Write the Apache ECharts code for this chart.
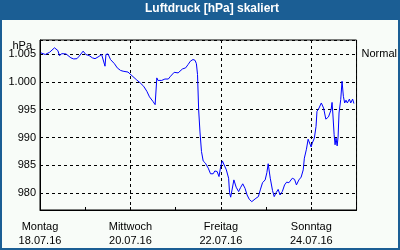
<!DOCTYPE html>
<html>
<head>
<meta charset="utf-8">
<script src="https://cdn.jsdelivr.net/npm/echarts@6/dist/echarts.min.js"></script>
<style>
  html, body { margin: 0; padding: 0; background: #f8fcf8; }
  #chart { width: 400px; height: 250px; }
</style>
</head>
<body>
<div id="chart"></div>
<script>
// Stunden seit Montag 18.07.16 00:00
const hours = [
  0.4, 2.8, 5.1, 7.7, 9.5, 10.3, 11.6, 13.8, 16.4, 17.9, 19.6, 20.8, 22.9, 24.3, 26.1, 27.8,
  29.2, 30.8, 32.7, 33.6, 34.5, 35.0, 36.1, 37.4, 39.5, 41.0, 42.7, 44.1, 46.7, 48.8, 51.1,
  53.2, 55.0, 56.7, 58.1, 59.9, 61.1, 62.0, 62.6, 63.4, 64.6, 66.3, 68.1, 69.3, 71.2, 73.3,
  75.6, 77.3, 78.6, 79.8, 81.2, 82.3, 83.0, 83.6, 84.2, 84.9, 85.7, 86.6, 87.8, 89.3, 90.5,
  91.9, 92.8, 94.0, 95.0, 95.9, 96.8, 97.7, 98.9, 100.1, 100.6, 101.2, 102.0, 102.9, 104.1,
  105.4, 106.4, 107.6, 108.8, 109.9, 111.1, 112.4, 113.4, 114.6, 115.9, 116.9, 118.1, 119.5,
  120.4, 121.1, 122.2, 123.4, 124.3, 125.3, 126.4, 127.4, 128.6, 129.8, 130.9, 132.1, 133.9,
  135.1, 136.1, 137.4, 138.6, 139.7, 140.3, 141.4, 142.3, 143.0, 143.9, 144.5, 145.6, 146.5,
  147.0, 148.1, 149.3, 150.5, 151.7, 153.1, 154.0, 154.5, 155.0, 155.4, 156.1, 156.6, 157.1,
  157.7, 158.2, 158.7, 159.6, 160.3, 161.0, 161.7, 162.4, 163.1, 164.2, 164.9, 165.9, 166.6
];
const druck = [
  1005.2, 1004.9, 1005.3, 1006.1, 1005.6, 1004.7, 1005.05, 1005.0, 1004.3, 1004.1, 1004.15, 1004.6, 1005.5, 1004.9, 1004.7, 1004.3,
  1004.15, 1004.45, 1004.9, 1004.9, 1002.8, 1004.9, 1005.0, 1004.0, 1003.25, 1002.5, 1002.05, 1001.9, 1001.75, 1001.1, 1000.4,
  999.8, 999.2, 998.3, 997.3, 996.5, 995.9, 1000.7, 1000.25, 1000.1, 1000.25, 1000.5, 1000.5, 1001.0, 1001.7, 1001.6,
  1002.3, 1002.5, 1003.1, 1003.7, 1004.0, 1003.85, 1003.25, 1001.3, 995.0, 991.0, 987.5, 985.8, 985.4, 984.5, 983.5,
  983.5, 984.0, 983.9, 983.0, 984.8, 985.8, 985.5, 984.2, 982.7, 980.1, 979.3, 979.3, 982.4, 981.1,
  980.3, 981.0, 981.7, 980.9, 979.7, 978.9, 978.5, 978.8, 979.1, 979.4, 980.6, 981.9, 982.4,
  983.7, 985.3, 982.7, 980.5, 979.4, 980.1, 980.7, 979.7, 980.3, 981.5, 982.0, 981.9, 982.7,
  982.5, 981.5, 982.4, 982.9, 984.2, 986.3, 987.9, 989.7, 989.6, 988.3, 989.0, 989.9, 992.0,
  994.7, 995.3, 996.2, 995.3, 993.3, 993.7, 993.9, 995.0, 996.3, 994.4, 990.5, 988.7, 989.9,
  988.5, 990.1, 994.4, 996.8, 1000.1, 997.4, 996.2, 996.7, 996.2, 996.9, 996.2, 996.9, 996.1
];
const tage = ['Montag', 'Dienstag', 'Mittwoch', 'Donnerstag', 'Freitag', 'Samstag', 'Sonntag', 'Montag'];
const daten = ['18.07.16', '19.07.16', '20.07.16', '21.07.16', '22.07.16', '23.07.16', '24.07.16', '25.07.16'];

const font = 'Liberation Sans';
const chart = echarts.init(document.getElementById('chart'));

const fmtDruck = v => {
  if (v % 5 !== 0) return '';
  if (v >= 1000) return '1.' + String(v - 1000).padStart(3, '0');
  return String(v);
};

const option = {
  backgroundColor: '#f8fcf8',
  animation: false,
  grid: {
    left: 40, right: 40, top: 40, bottom: 40,
    show: true, borderColor: '#000', borderWidth: 1, backgroundColor: 'transparent'
  },
  graphic: [
    { type: 'rect', shape: { x: 0, y: 0, width: 400, height: 20 }, style: { fill: '#1b5e94' } },
    { type: 'rect', shape: { x: 1, y: 1, width: 398, height: 248 }, style: { fill: null, stroke: '#1b5e94', lineWidth: 2 } },
    { type: 'text', left: 145, top: 3, style: { text: 'Luftdruck [hPa] skaliert', fill: '#fff', font: 'bold 12px "Liberation Sans"' } },
    { type: 'text', right: 368, top: 40, style: { text: 'hPa', fill: '#000', font: '11px "Liberation Sans"' } }
  ],
  xAxis: [
    {
      type: 'value', min: 0, max: 168, interval: 24,
      axisLine: { show: true, lineStyle: { color: '#000' } },
      axisTick: { show: true, inside: true, length: 3, lineStyle: { color: '#000' } },
      axisLabel: { show: false },
      splitLine: { show: false }
    },
    {
      type: 'value', min: 0, max: 168, interval: 48, position: 'bottom',
      axisLine: { show: false },
      axisTick: { show: false },
      axisLabel: {
        margin: 10, color: '#000', fontFamily: font, fontSize: 11, lineHeight: 14,
        formatter: v => (v % 48 === 0 ? tage[v / 24] + '\n' + daten[v / 24] : '')
      },
      splitLine: { show: true, lineStyle: { color: '#000', type: [3, 3] } }
    }
  ],
  yAxis: [
    {
      type: 'value', min: 977, max: 1007.5, splitNumber: 6,
      axisLine: { show: true, lineStyle: { color: '#000' } },
      axisTick: { show: false },
      axisLabel: { margin: 4, color: '#000', fontFamily: font, fontSize: 11, formatter: fmtDruck },
      splitLine: { show: true, lineStyle: { color: '#000', type: [3, 3] } }
    },
    {
      type: 'value', min: 977, max: 1007.5, position: 'right',
      axisLine: { show: false },
      axisTick: { show: true, length: 3, customValues: [1005], lineStyle: { color: '#000' } },
      axisLabel: {
        margin: 5, color: '#000', fontFamily: font, fontSize: 11, customValues: [1005],
        formatter: () => 'Normal'
      },
      splitLine: { show: false }
    }
  ],
  series: [
    {
      type: 'line',
      xAxisIndex: 0,
      yAxisIndex: 0,
      data: hours.map((h, i) => [h, druck[i]]),
      showSymbol: false,
      lineStyle: { color: '#0000ff', width: 1 },
      itemStyle: { color: '#0000ff' }
    }
  ]
};

chart.setOption(option);
</script>
</body>
</html>
